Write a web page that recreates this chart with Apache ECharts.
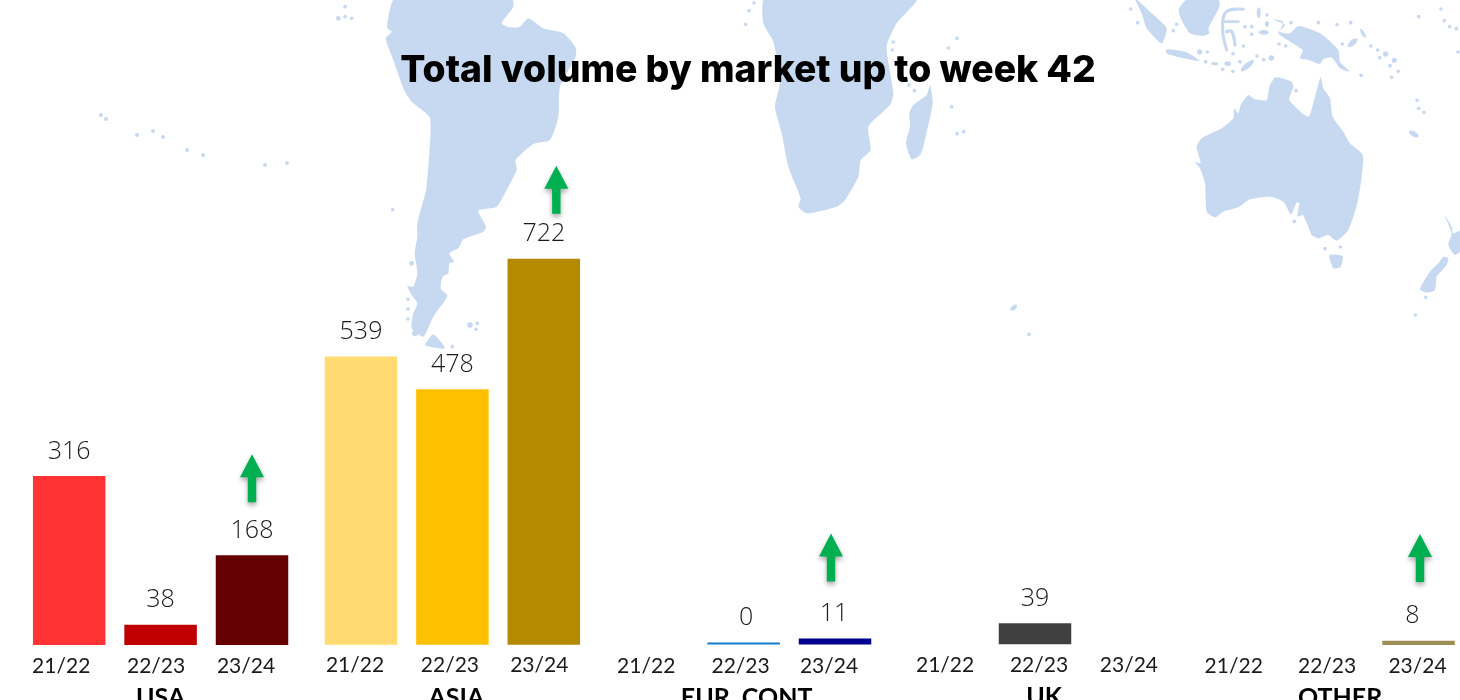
<!DOCTYPE html>
<html><head><meta charset="utf-8">
<style>html,body{margin:0;padding:0;background:#fff}#c{width:1460px;height:700px}</style>
<script src="https://cdn.jsdelivr.net/npm/echarts@6/dist/echarts.min.js"></script>
</head><body><div id="c"></div>
<script>
// ---- data ----
const seasons = ['21/22','22/23','23/24'];
const markets = ['USA','ASIA','EUR. CONT','UK','OTHER'];
const usaValues   = [316, 38, 168];
const asiaValues  = [539, 478, 722];
const eurValues   = [null, 0, 11];
const ukValues    = [null, 39, null];
const otherValues = [null, null, 8];
const allValues = [usaValues, asiaValues, eurValues, ukValues, otherValues];
const arrowLevels = [312, 851, 163, null, 163];
const yMax = 1200;

// ---- styles ----
const usaColors   = ['#FF3333','#C00000','#660000'];
const asiaColors  = ['#FFDB71','#FFC000','#B58900'];
const eurColors   = ['#0F7BD0','#0F7BD0','#000090'];
const ukColors    = ['#404040','#404040','#404040'];
const otherColors = ['#9C8E54','#9C8E54','#9C8E54'];
const allColors = [usaColors, asiaColors, eurColors, ukColors, otherColors];
const gridLefts = [23.5, 315.3, 606.5, 897.9, 1190];
const gridBottoms = [645, 644.7, 644.5, 644.2, 645];
const tickShifts = [[-8,-4.5,-6],[-6,-2.5,-4.5],[-6,-3,-6],[1.5,4,2.5],[-2,0,-1]];
const labelShifts = [[0,0,0],[0,0,0],[0,2.5,-1],[0,0,0],[0,0,-6]];
const arrowShifts = [0, 12.5, -4, 0, 1.5];
const nameShifts = [0, 4, 3, 9, 13];
const tickY = [0,-1,0,0,0];
const TICK_FONT = 'Lato';
const NUM_FONT = 'Open Sans';
const TITLE_FONT = 'Inter';
const MAP = '#C7D9F1';

// ---- background map (decoration, traced in 3x crop space) ----
function poly(pts, smooth){ return {type:'polygon', z:-5, silent:true, shape:{points:pts, smooth: smooth===undefined?0.2:smooth}, style:{fill:MAP}}; }
function dot(p){ return {type:'circle', z:-5, silent:true, shape:{cx:p[0],cy:p[1],r:p[2]||5.5}, style:{fill:MAP}}; }
function ell(p){ return {type:'ellipse', z:-5, silent:true, originX:p[0], originY:p[1], rotation:(p[4]||0)*Math.PI/180, shape:{cx:p[0],cy:p[1],rx:p[2],ry:p[3]}, style:{fill:MAP}}; }
function line(pts,w){ return {type:'polyline', z:-5, silent:true, shape:{points:pts, smooth:0.4}, style:{stroke:MAP,fill:null,lineWidth:w,lineCap:'round'}}; }
function region(x,children){ return {type:'group', x:x, y:0, scaleX:1/3, scaleY:1/3, silent:true, children:children}; }

const southAmerica = [[195,-5],[175,50],[172,85],[185,95],[167,115],[190,180],[222,270],[245,305],[300,355],[290,560],[283,590],[262,670],[262,710],[254,760],[262,820],[250,860],[232,858],[245,885],[262,910],[250,940],[245,985],[280,1010],[310,950],[352,888],[332,865],[338,830],[355,820],[358,790],[372,785],[358,760],[385,745],[400,718],[460,695],[468,680],[445,632],[500,620],[530,570],[560,510],[557,480],[610,432],[660,420],[685,350],[690,260],[735,175],[738,145],[700,100],[640,85],[595,55],[570,80],[540,82],[515,70],[550,20],[545,-5]];
const fuego = [[285,1035],[310,1003],[345,1045],[300,1040]];
const saDots = [[45,20],[25,55,7],[45,50],[65,55],[188,629],[245,790,7],[234,898],[234,927],[234,957],[420,975,8],[442,970],[438,988],[367,1040],[255,1000,9]];
const africa = [[105,-5],[100,70],[130,125],[150,245],[135,320],[155,400],[175,500],[212,595],[205,620],[232,640],[320,620],[345,600],[385,530],[392,480],[422,450],[415,380],[480,315],[490,280],[470,140],[500,70],[560,-5]];
const madagascar = [[600,255],[608,310],[580,440],[570,465],[545,478],[528,430],[540,380],[538,340],[550,315],[590,285]];
const afDots = [[72,9],[57,32],[47,73],[490,126],[487,150],[655,144],[681,115],[537,255],[553,272],[665,320],[681,401],[701,395],[897,1003]];
const afEllipses = [[851,923,12,7,40]];
const pacDots = [[101,115,2],[106,119,2],[137,135,2],[153,131,2],[163,137,2],[187,150,2],[203,155,2],[265,165,2],[287,163,2]];
const australia = [[497,232],[545,245],[550,262],[538,300],[595,350],[615,290],[632,232],[640,265],[660,295],[668,350],[700,395],[720,430],[758,465],[755,530],[742,610],[715,690],[680,722],[655,705],[625,715],[605,705],[595,680],[578,645],[562,650],[568,610],[560,607],[543,643],[520,605],[480,590],[420,598],[385,622],[340,635],[315,652],[290,635],[285,550],[270,505],[255,485],[272,490],[260,440],[275,415],[335,385],[370,355],[372,325],[385,340],[392,315],[415,285],[435,298],[470,300],[478,260]];
const tasmania = [[658,765],[698,768],[692,800],[670,805]];
const newGuinea = [[488,58],[520,65],[510,95],[540,100],[565,78],[630,100],[685,150],[690,185],[720,215],[690,205],[665,172],[640,178],[630,192],[595,180],[570,175],[578,150],[540,125],[505,100],[525,75]];
const sumatra = [[75,-5],[125,40],[170,85],[155,130],[110,85],[95,40]];
const borneo = [[235,-5],[325,-5],[328,20],[295,85],[298,100],[280,108],[240,100],[210,50],[207,25]];
const java = [[170,148],[230,157],[268,183],[200,170],[170,160]];
const nzNorth = [[1003,645],[1025,680],[1030,700],[1055,690],[1055,750],[1035,765],[1015,735],[1025,700]];
const nzSouth = [[1000,770],[1015,775],[1010,795],[980,830],[975,870],[950,878],[930,868],[960,815],[985,790]];
const auEllipses = [[461,97,15,7],[446,38,6,16],[471,72,6,9],[412,197,25,8,40],[353,191,10,7],[314,191,11,5],[759,100,5,15,30],[728,128,18,8,40],[827,162,8,8],[853,181,8,8],[911,402,16,8,-30],[269,156,8,8]];
const auDots = [[62,27],[83,68],[200,73],[190,92],[292,156],[287,185],[338,208],[369,214],[390,185],[369,161],[400,138],[405,80],[425,80],[425,103],[471,45],[441,168],[461,179],[484,174,8],[507,132],[527,138],[543,68],[625,68],[681,74],[722,68],[697,132],[783,138],[803,150],[809,173],[840,197],[865,214],[845,232],[753,226],[558,272],[926,50],[993,27],[1003,62],[1019,80],[1039,86],[1044,156],[921,301],[926,325],[942,337],[645,746],[691,741],[553,664],[947,892],[916,945]];

const graphicEls = [
  region(330, [poly(southAmerica), poly(fuego)].concat(saDots.map(dot))),
  region(730, [poly(africa), poly(madagascar)].concat(afDots.map(dot)).concat(afEllipses.map(ell))),
  region(1110,[poly(australia),poly(tasmania),poly(newGuinea),poly(sumatra),poly(borneo),poly(java),poly(nzNorth),poly(nzSouth),
    line([[400,28],[348,36],[338,90],[350,150]],9), line([[385,65],[345,65]],8), line([[350,95],[365,95],[375,135]],10)]
    .concat(auEllipses.map(ell)).concat(auDots.map(dot))),
  {type:'group', x:0, y:0, silent:true, children:pacDots.map(dot)}
];

// ---- chart ----
const ARROW = 'path://M12 0 L24 23 L16.2 23 L16.2 48 L7.8 48 L7.8 23 L0 23 Z';
const grids=[], xAxes=[], yAxes=[], series=[];
markets.forEach((m,i)=>{
  grids.push({left:gridLefts[i], width:274.2, top:gridBottoms[i]-641.4, height:641.4, outerBoundsMode:'none', containLabel:false});
  const rich={};
  seasons.forEach((s,k)=>{
    const d=tickShifts[i][k];
    rich['s'+k]={fontFamily:TICK_FONT,fontSize:21,color:'#1a1a1a',padding:d<0?[0,-2*d,0,0]:[0,0,0,2*d]};
  });
  xAxes.push({type:'category', gridIndex:i, data:seasons, position:'bottom',
    axisLine:{show:false}, axisTick:{show:false}, splitLine:{show:false},
    axisLabel:{interval:0, margin:11+tickY[i], hideOverlap:false, formatter:(v,k)=>'{s'+k+'|'+v+'}', rich:rich},
    name:m, nameLocation:'middle', nameGap:40.5, nameMoveOverlap:false,
    nameTextStyle:{fontFamily:TICK_FONT,fontWeight:'bold',fontSize:25,color:'#000',padding:[0,0,0,2*nameShifts[i]]}
  });
  yAxes.push({type:'value', gridIndex:i, min:0, max:yMax, show:false, splitLine:{show:false}});
  series.push({type:'bar', xAxisIndex:i, yAxisIndex:i, barWidth:72.5, barMinHeight:2, animation:false,
    data:allValues[i].map((v,k)=>({value:v, itemStyle:{color:allColors[i][k]},
      label:{offset:[labelShifts[i][k],0]}})),
    label:{show:true, position:'top', distance:12, fontFamily:NUM_FONT, fontWeight:300, fontSize:25, color:'#1a1a1a'}
  });
  if(arrowLevels[i]!==null){
    series.push({type:'scatter', xAxisIndex:i, yAxisIndex:i, symbol:ARROW, symbolSize:[24,48], animation:false, silent:true,
      symbolOffset:[arrowShifts[i],0],
      itemStyle:{color:'#00B050',opacity:1,shadowBlur:5,shadowColor:'rgba(0,0,0,0.35)',shadowOffsetY:3},
      data:[[2,arrowLevels[i]]]});
  }
});

const chart = echarts.init(document.getElementById('c'), null, {renderer:'canvas'});
chart.setOption({
  animation:false,
  backgroundColor:'#fff',
  title:{text:'Total volume by market up to week 42', left:743, top:47, textAlign:'center',
    textStyle:{fontFamily:TITLE_FONT,fontWeight:800,fontSize:37.3,color:'#000'}},
  graphic:graphicEls,
  grid:grids, xAxis:xAxes, yAxis:yAxes, series:series
});
</script></body></html>
